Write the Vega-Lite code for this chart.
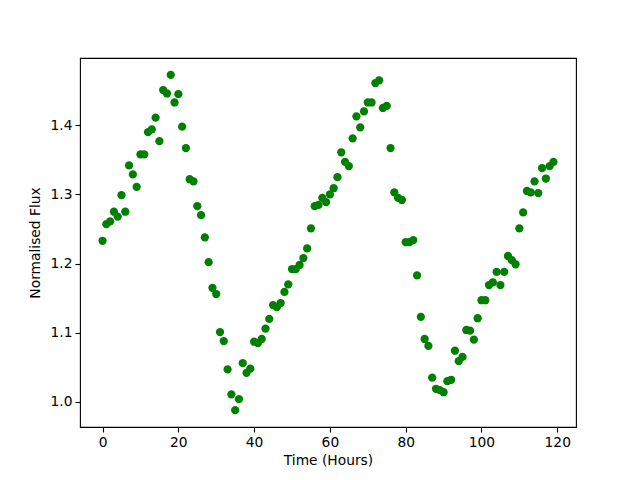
{
  "$schema": "https://vega.github.io/schema/vega-lite/v6.json",
  "width": 496,
  "height": 369,
  "autosize": {"type": "none"},
  "padding": {"left": 80, "top": 58, "right": 64, "bottom": 53},
  "background": "white",
  "config": {
    "view": {"stroke": "#000", "strokeWidth": 1.1},
    "font": "DejaVu Sans",
    "axis": {
      "grid": false,
      "domain": false,
      "tickColor": "#000",
      "tickSize": 5,
      "tickWidth": 1.1,
      "labelColor": "#000",
      "labelFont": "DejaVu Sans",
      "labelFontSize": 13.8,
      "labelPadding": 3,
      "titleFont": "DejaVu Sans",
      "titleFontSize": 13.8,
      "titleFontWeight": "normal",
      "titleColor": "#000"
    }
  },
  "data": {
    "values": [
      {"t":0,"f":1.233},{"t":1,"f":1.257},{"t":2,"f":1.261},{"t":3,"f":1.275},{"t":4,"f":1.268},
      {"t":5,"f":1.299},{"t":6,"f":1.275},{"t":7,"f":1.342},{"t":8,"f":1.329},{"t":9,"f":1.311},
      {"t":10,"f":1.358},{"t":11,"f":1.358},{"t":12,"f":1.39},{"t":13,"f":1.394},{"t":14,"f":1.411},
      {"t":15,"f":1.377},{"t":16,"f":1.451},{"t":17,"f":1.446},{"t":18,"f":1.473},{"t":19,"f":1.433},
      {"t":20,"f":1.445},{"t":21,"f":1.398},{"t":22,"f":1.367},{"t":23,"f":1.322},{"t":24,"f":1.319},
      {"t":25,"f":1.283},{"t":26,"f":1.27},{"t":27,"f":1.238},{"t":28,"f":1.202},{"t":29,"f":1.165},
      {"t":30,"f":1.156},{"t":31,"f":1.101},{"t":32,"f":1.088},{"t":33,"f":1.047},{"t":34,"f":1.011},
      {"t":35,"f":0.988},{"t":36,"f":1.004},{"t":37,"f":1.056},{"t":38,"f":1.042},{"t":39,"f":1.048},
      {"t":40,"f":1.087},{"t":41,"f":1.085},{"t":42,"f":1.091},{"t":43,"f":1.106},{"t":44,"f":1.12},
      {"t":45,"f":1.14},{"t":46,"f":1.137},{"t":47,"f":1.143},{"t":48,"f":1.159},{"t":49,"f":1.17},
      {"t":50,"f":1.192},{"t":51,"f":1.192},{"t":52,"f":1.198},{"t":53,"f":1.208},{"t":54,"f":1.222},
      {"t":55,"f":1.251},{"t":56,"f":1.283},{"t":57,"f":1.285},{"t":58,"f":1.295},{"t":59,"f":1.289},
      {"t":60,"f":1.3},{"t":61,"f":1.309},{"t":62,"f":1.325},{"t":63,"f":1.361},{"t":64,"f":1.347},
      {"t":65,"f":1.341},{"t":66,"f":1.381},{"t":67,"f":1.413},{"t":68,"f":1.397},{"t":69,"f":1.42},
      {"t":70,"f":1.433},{"t":71,"f":1.433},{"t":72,"f":1.461},{"t":73,"f":1.465},{"t":74,"f":1.425},
      {"t":75,"f":1.428},{"t":76,"f":1.367},{"t":77,"f":1.303},{"t":78,"f":1.295},{"t":79,"f":1.292},
      {"t":80,"f":1.231},{"t":81,"f":1.231},{"t":82,"f":1.234},{"t":83,"f":1.183},{"t":84,"f":1.123},
      {"t":85,"f":1.091},{"t":86,"f":1.081},{"t":87,"f":1.035},{"t":88,"f":1.019},{"t":89,"f":1.017},
      {"t":90,"f":1.014},{"t":91,"f":1.03},{"t":92,"f":1.032},{"t":93,"f":1.074},{"t":94,"f":1.059},
      {"t":95,"f":1.065},{"t":96,"f":1.104},{"t":97,"f":1.103},{"t":98,"f":1.09},{"t":99,"f":1.121},
      {"t":100,"f":1.147},{"t":101,"f":1.147},{"t":102,"f":1.169},{"t":103,"f":1.173},{"t":104,"f":1.188},
      {"t":105,"f":1.169},{"t":106,"f":1.188},{"t":107,"f":1.211},{"t":108,"f":1.205},{"t":109,"f":1.199},
      {"t":110,"f":1.251},{"t":111,"f":1.274},{"t":112,"f":1.305},{"t":113,"f":1.303},{"t":114,"f":1.319},
      {"t":115,"f":1.302},{"t":116,"f":1.338},{"t":117,"f":1.323},{"t":118,"f":1.341},{"t":119,"f":1.347}
    ]
  },
  "mark": {"type": "point", "shape": "circle", "filled": true, "color": "#008000", "opacity": 1, "size": 68},
  "encoding": {
    "x": {
      "field": "t", "type": "quantitative",
      "scale": {"domain": [-5.95, 124.95], "nice": false, "zero": false},
      "axis": {"values": [0, 20, 40, 60, 80, 100, 120], "title": "Time (Hours)", "titlePadding": 5}
    },
    "y": {
      "field": "f", "type": "quantitative",
      "scale": {"domain": [0.9637, 1.4973], "nice": false, "zero": false},
      "axis": {"values": [1.0, 1.1, 1.2, 1.3, 1.4], "format": ".1f", "title": "Normalised Flux", "titlePadding": 8}
    }
  }
}
